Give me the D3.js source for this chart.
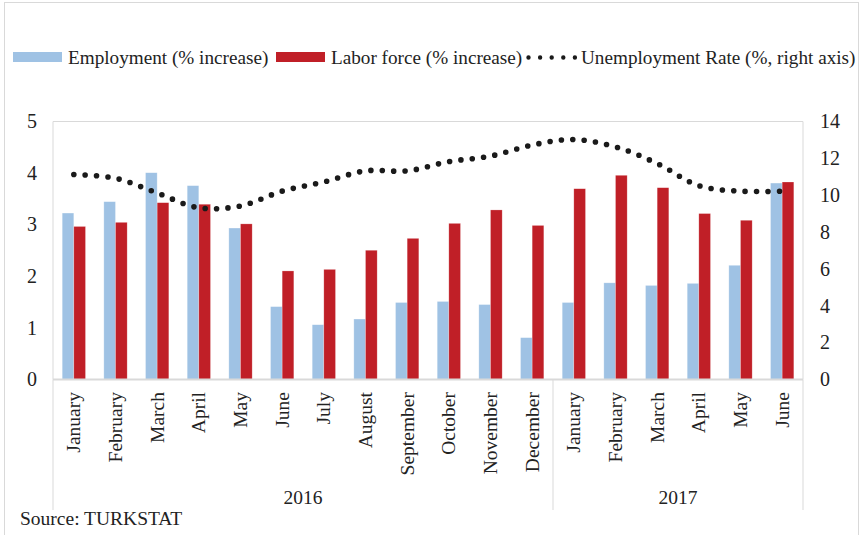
<!DOCTYPE html>
<html>
<head>
<meta charset="utf-8">
<script src="https://cdn.jsdelivr.net/npm/d3@7"></script>
<style>
  html, body { margin: 0; padding: 0; background: #fff; }
  svg text { font-family: "Liberation Serif", "Times New Roman", serif; fill: #222; }
</style>
</head>
<body>
<svg id="chart" width="861" height="535"></svg>
<script>
// ---- data ----
const months = ["January","February","March","April","May","June","July","August","September","October","November","December",
                "January","February","March","April","May","June"];
const years = [{label: "2016", from: 0, to: 11}, {label: "2017", from: 12, to: 17}];
const employment = [3.22, 3.44, 4.00, 3.75, 2.93, 1.41, 1.06, 1.17, 1.49, 1.51, 1.45, 0.81,
                    1.49, 1.87, 1.82, 1.86, 2.21, 3.80];
const laborForce = [2.96, 3.04, 3.42, 3.39, 3.01, 2.10, 2.13, 2.50, 2.73, 3.02, 3.28, 2.98,
                    3.69, 3.95, 3.71, 3.21, 3.08, 3.82];
const unemployment = [11.1, 10.9, 10.1, 9.3, 9.4, 10.2, 10.7, 11.3, 11.3, 11.8, 12.1, 12.7,
                      13.0, 12.6, 11.7, 10.5, 10.2, 10.2];
const leftTicks = [0, 1, 2, 3, 4, 5];
const rightTicks = [0, 2, 4, 6, 8, 10, 12, 14];
const seriesNames = ["Employment (% increase)", "Labor force (% increase)", "Unemployment Rate (%, right axis)"];

// ---- layout ----
const svg = d3.select("#chart");
const L = 53, R = 803, T = 121, B = 379.5;
const blue = "#9fc2e4", red = "#c01f27", grid = "#d9d9d9";

// outer border
svg.append("rect").attr("x", 4.5).attr("y", 2.5).attr("width", 854).attr("height", 540)
  .attr("fill", "none").attr("stroke", grid).attr("stroke-width", 1);

const idx = months.map((d, i) => i);
const x = d3.scaleBand().domain(idx).range([L, R]).paddingInner(0.44).paddingOuter(0.22);
const xs = d3.scaleBand().domain([0, 1]).range([0, x.bandwidth()]);
const yL = d3.scaleLinear().domain([0, 5]).range([B, T]);
const yR = d3.scaleLinear().domain([0, 14]).range([B, T]);

// plot frame
svg.append("path").attr("d", `M${L},${B} V${T + 0.5} H${R} V${B}`)
  .attr("fill", "none").attr("stroke", grid).attr("stroke-width", 1);

// bars
const g = svg.append("g");
g.selectAll("rect.emp").data(employment).join("rect")
  .attr("x", (d, i) => x(i) + xs(0)).attr("width", xs.bandwidth())
  .attr("y", d => yL(d)).attr("height", d => yL(0) - yL(d))
  .attr("fill", blue).attr("stroke", "#fff").attr("stroke-opacity", 0.5).attr("stroke-width", 0.6);
g.selectAll("rect.lab").data(laborForce).join("rect")
  .attr("x", (d, i) => x(i) + xs(1)).attr("width", xs.bandwidth())
  .attr("y", d => yL(d)).attr("height", d => yL(0) - yL(d))
  .attr("fill", red).attr("stroke", "#fff").attr("stroke-opacity", 0.4).attr("stroke-width", 0.6);

// x axis base line
svg.append("line").attr("x1", L).attr("x2", R).attr("y1", B).attr("y2", B)
  .attr("stroke", grid).attr("stroke-width", 2);

// category separators
const sepX = [L, (x(11) + x.bandwidth() + x(12)) / 2, R];
svg.selectAll("line.sep").data(sepX).join("line")
  .attr("x1", d => d).attr("x2", d => d).attr("y1", B).attr("y2", 510)
  .attr("stroke", grid).attr("stroke-width", 1);

// unemployment line (dotted)
const line = d3.line().x((d, i) => x(i) + x.bandwidth() / 2).y(d => yR(d))
  .curve(d3.curveCatmullRom.alpha(0.5));
svg.append("path").attr("d", line(unemployment))
  .attr("fill", "none").attr("stroke", "#1a1a1a").attr("stroke-width", 5.6)
  .attr("stroke-linecap", "round").attr("stroke-dasharray", "0 11.4");

// left axis
const axL = svg.append("g").attr("transform", `translate(37,0)`)
  .call(d3.axisLeft(yL).tickValues(leftTicks).tickSize(0).tickPadding(0).tickFormat(d3.format("d")));
axL.select(".domain").remove();
axL.selectAll("text").attr("font-size", 20).attr("font-family", "Liberation Serif").attr("fill", "#222");

// right axis
const axR = svg.append("g").attr("transform", `translate(820,0)`)
  .call(d3.axisRight(yR).tickValues(rightTicks).tickSize(0).tickPadding(0).tickFormat(d3.format("d")));
axR.select(".domain").remove();
axR.selectAll("text").attr("font-size", 20).attr("font-family", "Liberation Serif").attr("fill", "#222");

// month labels
svg.selectAll("text.month").data(months).join("text")
  .attr("class", "month")
  .attr("transform", (d, i) => `translate(${x(i) + x.bandwidth() / 2},392) rotate(-90)`)
  .attr("text-anchor", "end").attr("dy", "0.33em")
  .attr("font-size", 19.5).text(d => d);

// year labels
svg.selectAll("text.year").data(years).join("text")
  .attr("class", "year")
  .attr("x", d => (sepX[d.from === 0 ? 0 : 1] + sepX[d.from === 0 ? 1 : 2]) / 2)
  .attr("y", 504).attr("text-anchor", "middle").attr("font-size", 19.5).text(d => d.label);

// legend
const lg = svg.append("g");
lg.append("rect").attr("x", 13).attr("y", 52).attr("width", 49).attr("height", 10).attr("fill", blue);
lg.append("text").attr("x", 68).attr("y", 63.5).attr("font-size", 19.2).text(seriesNames[0]);
lg.append("rect").attr("x", 276).attr("y", 52).attr("width", 49).attr("height", 10).attr("fill", red);
lg.append("text").attr("x", 331).attr("y", 63.5).attr("font-size", 19.2).text(seriesNames[1]);
lg.append("line").attr("x1", 528.5).attr("x2", 575).attr("y1", 57.5).attr("y2", 57.5)
  .attr("stroke", "#1a1a1a").attr("stroke-width", 4.4).attr("stroke-linecap", "round")
  .attr("stroke-dasharray", "0 11.6");
lg.append("text").attr("x", 581).attr("y", 63.5).attr("font-size", 19.2).text(seriesNames[2]);

// source
svg.append("text").attr("x", 20).attr("y", 525).attr("font-size", 19.5).text("Source: TURKSTAT");
</script>
</body>
</html>
